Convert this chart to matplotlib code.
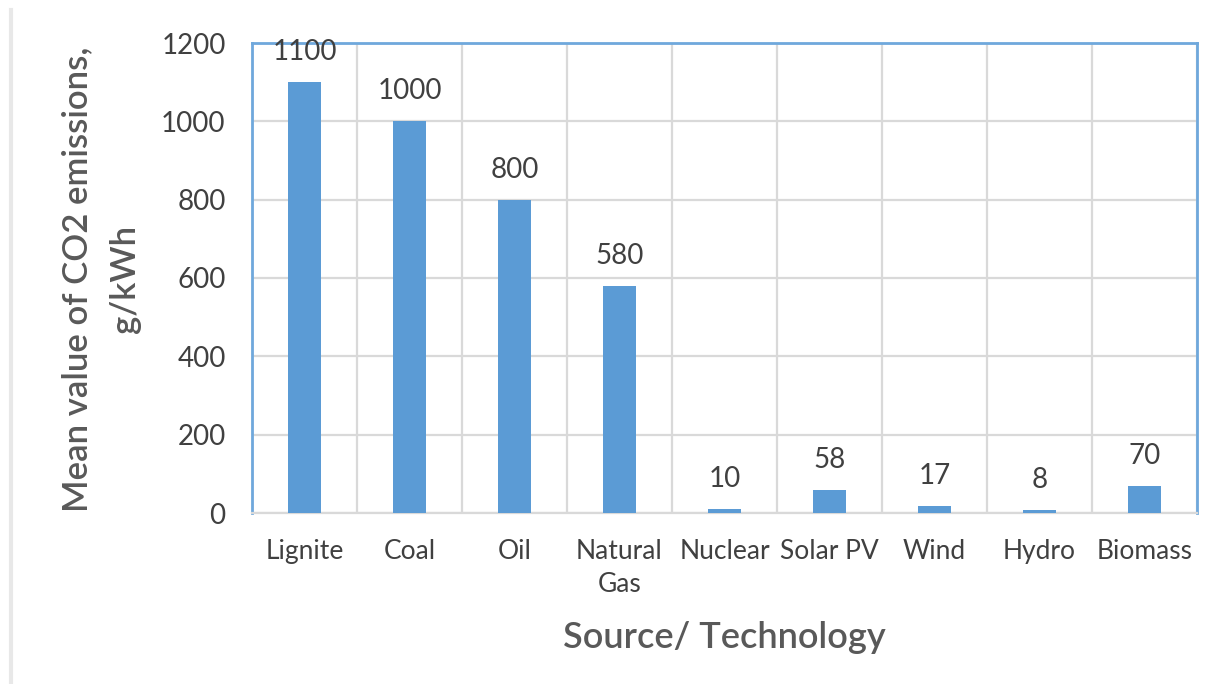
import matplotlib
matplotlib.use("Agg")
import matplotlib.pyplot as plt
from matplotlib.lines import Line2D
import numpy as np

categories = ["Lignite", "Coal", "Oil", "Natural\nGas", "Nuclear",
              "Solar PV", "Wind", "Hydro", "Biomass"]
emissions = [1100, 1000, 800, 580, 10, 58, 17, 8, 70]
y_ticks = [0, 200, 400, 600, 800, 1000, 1200]

BAR = "#5B9BD5"
TEXT = "#595959"
LABEL = "#404040"
GRID = "#D9D9D9"

plt.rcParams["font.family"] = ["Lato", "DejaVu Sans"]

fig = plt.figure(figsize=(12.23, 6.84), dpi=100)
ax = fig.add_axes([252 / 1223, 1 - 513 / 684, (1197 - 252) / 1223, (513 - 43) / 684])

x = np.arange(len(categories))
ax.bar(x, emissions, width=0.31, color=BAR, zorder=3)

for xi, v in zip(x, emissions):
    ax.annotate(str(v), (xi, v), xytext=(0, 21.5), textcoords="offset points",
                ha="center", va="center", fontsize=20, color=LABEL, zorder=4)

ax.set_xlim(-0.5, len(categories) - 0.5)
ax.set_ylim(0, 1200)
ax.set_yticks(y_ticks)
ax.set_xticks(x)
ax.set_xticklabels(categories, fontsize=19, color=LABEL, linespacing=1.4)
ax.tick_params(axis="y", labelsize=20, labelcolor=LABEL, length=0, pad=19)
ax.tick_params(axis="x", length=0, pad=19)

# cell grid: horizontal at ticks, vertical at category boundaries
ax.set_xticks(np.arange(-0.5, len(categories), 1.0), minor=True)
ax.tick_params(axis="x", which="minor", length=0)
ax.grid(True, axis="y", which="major", color=GRID, linewidth=1.6, zorder=0)
ax.grid(True, axis="x", which="minor", color=GRID, linewidth=1.6, zorder=0)

for side in ("left", "top", "right"):
    ax.spines[side].set_color("#6FA8DC")
    ax.spines[side].set_linewidth(2)
ax.spines["bottom"].set_color(GRID)
ax.spines["bottom"].set_linewidth(1.6)

ax.set_ylabel("Mean value of CO2 emissions,\ng/kWh", fontsize=25, color=TEXT,
              fontweight="semibold", linespacing=1.6)
ax.yaxis.set_label_coords((101 - 252) / 945, (513 - 279) / 470)
ax.yaxis.label.set_va("center")

ax.set_xlabel("Source/ Technology", fontsize=26, color=TEXT, fontweight="semibold")
ax.xaxis.set_label_coords(0.5, (513 - 638) / 470)
ax.xaxis.label.set_va("center")

fig.add_artist(Line2D([11 / 1223, 11 / 1223], [0, 1 - 10 / 684],
                      transform=fig.transFigure, color="#E8E8E8", linewidth=3))

fig.savefig("out.png", dpi=100, facecolor="white")
